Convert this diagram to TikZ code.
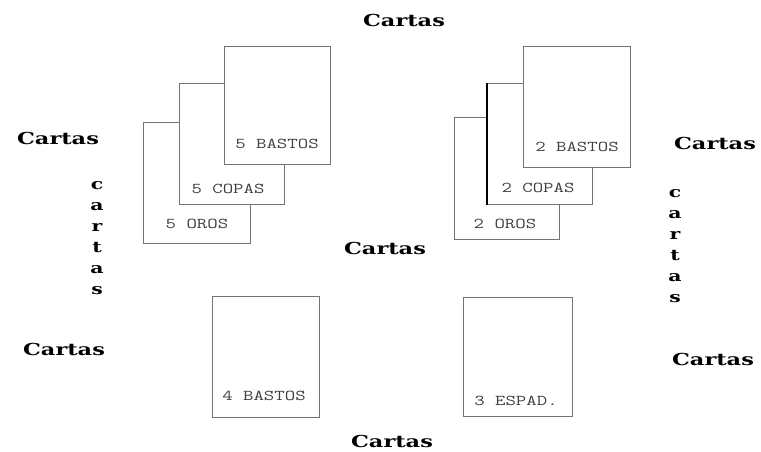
\documentclass[tikz,border=0pt]{standalone}
\usepackage{fontspec}
\newfontfamily\cardfont[FakeStretch=1.35]{Latin Modern Mono}
\newfontfamily\labfont[FakeStretch=1.36]{DejaVu Serif}
\definecolor{edge}{rgb}{0.45,0.45,0.45}
\definecolor{ink}{rgb}{0.25,0.25,0.25}
\begin{document}
\begin{tikzpicture}[x=1pt,y=-1pt,
  card/.style={draw=edge,line width=1.3pt,fill=white,anchor=north west,inner sep=0pt},
  ctext/.style={text=ink,font=\cardfont\fontsize{15}{15}\selectfont,inner sep=0pt},
  lab/.style={font=\labfont\bfseries\fontsize{16.5}{16.5}\selectfont,inner sep=0pt},
  vlab/.style={font=\labfont\bfseries\fontsize{15}{21}\selectfont,align=center,inner sep=0pt}]
\useasboundingbox (0,0) rectangle (761,452);
% left stack
\node[card,minimum width=107pt,minimum height=121pt] (o5) at (143,122) {};
\node[card,minimum width=105pt,minimum height=121pt] (c5) at (179,83) {};
\node[card,minimum width=106pt,minimum height=118pt] (b5) at (224,46) {};
\node[ctext] (to5) at (197,224) {5 OROS};
\node[ctext] (tc5) at (228,189) {5 COPAS};
\node[ctext] (tb5) at (277,144) {5 BASTOS};
% right stack
\node[card,minimum width=105pt,minimum height=122pt] (o2) at (454,117) {};
\node[card,minimum width=105pt,minimum height=121pt] (c2) at (487,83) {};
\draw[black,line width=1.4pt] (c2.north west) -- (c2.south west);
\node[card,minimum width=107pt,minimum height=121pt] (b2) at (523,46) {};
\node[ctext] (to2) at (505,224) {2 OROS};
\node[ctext] (tc2) at (538,188) {2 COPAS};
\node[ctext] (tb2) at (577,147) {2 BASTOS};
% bottom cards
\node[card,minimum width=107pt,minimum height=121pt] (b4) at (212,296) {};
\node[ctext] (tb4) at (264,396) {4 BASTOS};
\node[card,minimum width=109pt,minimum height=119pt] (e3) at (463,297) {};
\node[ctext] (te3) at (516,401) {3 ESPAD.};
% labels
\node[lab] (lt) at (404,20) {Cartas};
\node[lab] (ll) at (58,138) {Cartas};
\node[lab] (lm) at (385,248) {Cartas};
\node[lab] (lr) at (715,143) {Cartas};
\node[lab] (llb) at (64,349) {Cartas};
\node[lab] (lrb) at (713,359) {Cartas};
\node[lab] (lb) at (392,441) {Cartas};
\node[vlab,anchor=north] (vl) at (97,181) {c\\a\\r\\t\\a\\s};
\node[vlab,anchor=north] (vr) at (675,189) {c\\a\\r\\t\\a\\s};
\end{tikzpicture}
\end{document}
